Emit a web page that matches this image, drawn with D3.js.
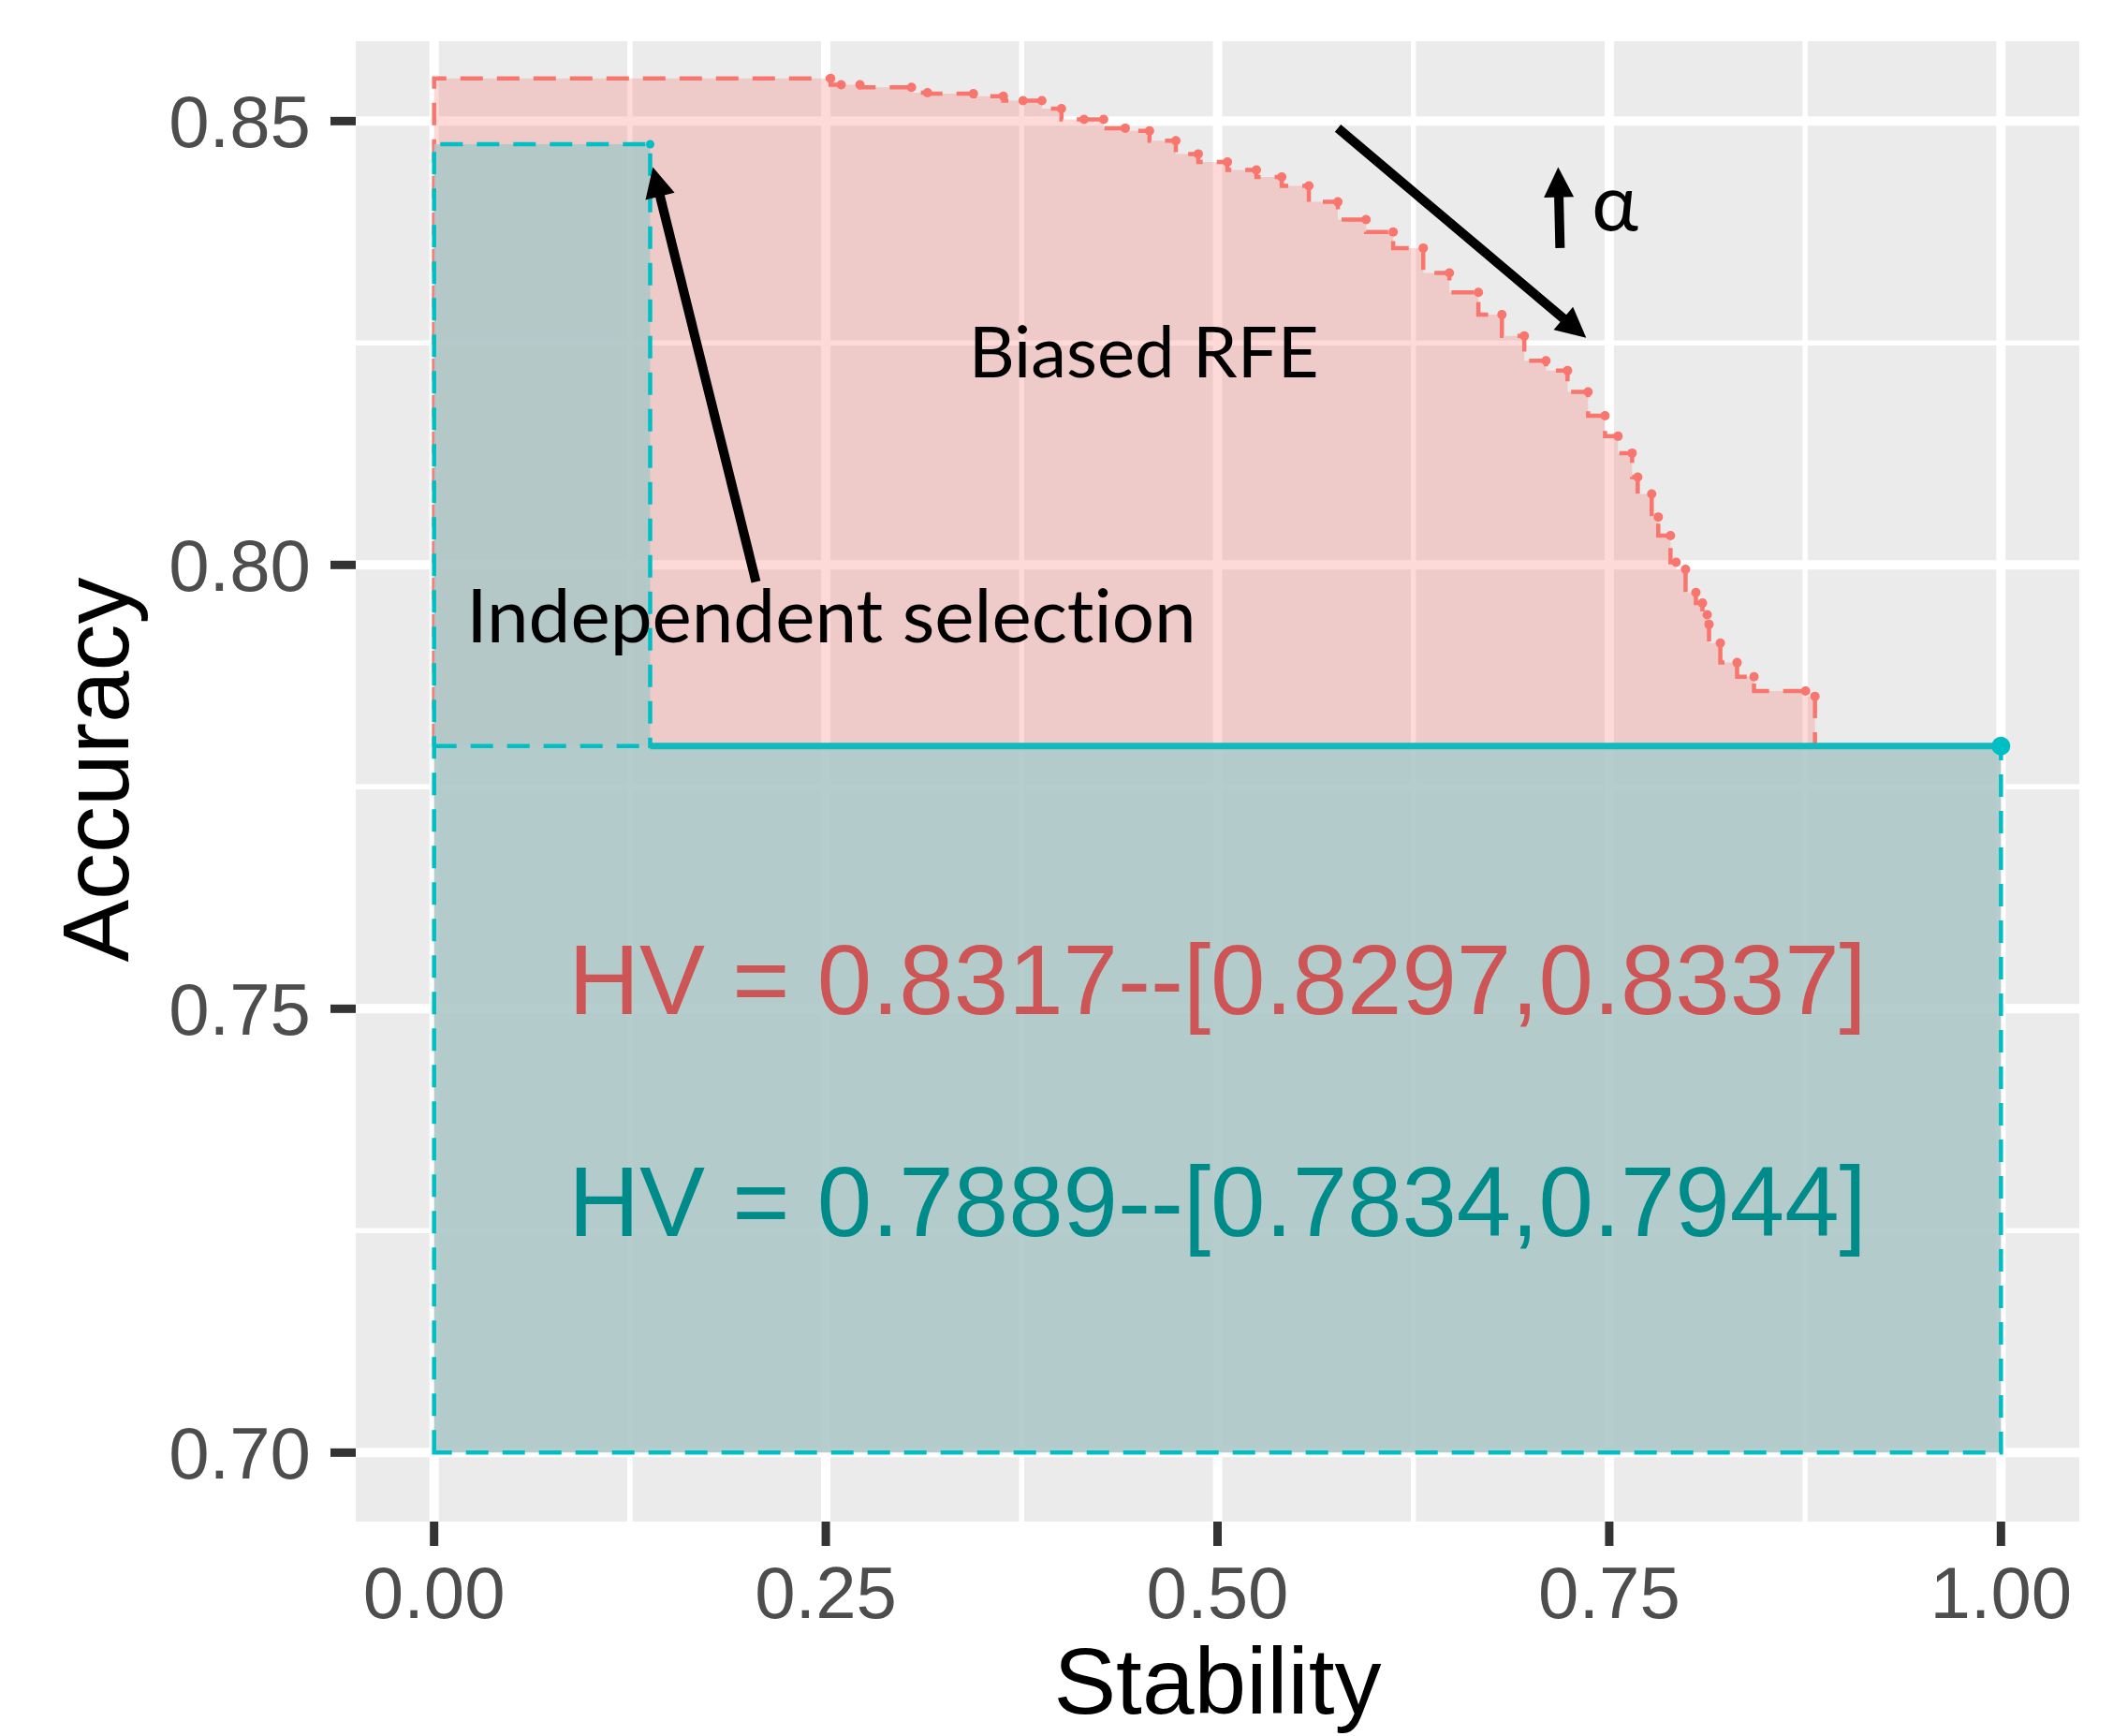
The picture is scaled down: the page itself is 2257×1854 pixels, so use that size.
<!DOCTYPE html>
<html>
<head>
<meta charset="utf-8">
<script src="https://cdn.jsdelivr.net/npm/d3@7"></script>
<style>
    body { margin: 0; background: #fff; }
    svg { display: block; }
</style>
</head>
<body>
<div id="chart"></div>
<script>
// Biased RFE pareto front (stability, accuracy)
var rfeStability = [0.2531, 0.2598, 0.2718, 0.3047, 0.3149, 0.3442, 0.3633, 0.3759, 0.3879, 0.4004,
    0.4148, 0.4273, 0.4411, 0.4566, 0.4734, 0.4877, 0.5063, 0.5248, 0.5410, 0.5583,
    0.5768, 0.5948, 0.6121, 0.6313, 0.6480, 0.6665, 0.6815, 0.6958, 0.7096, 0.7234,
    0.7365, 0.7473, 0.7556, 0.7646, 0.7682, 0.7771, 0.7813, 0.7891, 0.7927, 0.7987,
    0.8053, 0.8095, 0.8125, 0.8137, 0.8209, 0.8316, 0.8424, 0.8753, 0.8813];
var rfeAccuracy = [0.8548, 0.8541, 0.8541, 0.8538, 0.8532, 0.8531, 0.8528, 0.8523, 0.8523, 0.8514,
    0.8502, 0.8502, 0.8492, 0.8489, 0.8478, 0.8463, 0.8454, 0.8445, 0.8437, 0.8427,
    0.8409, 0.8389, 0.8375, 0.8357, 0.8329, 0.8307, 0.8282, 0.8258, 0.8230, 0.8219,
    0.8195, 0.8168, 0.8145, 0.8126, 0.8099, 0.8080, 0.8054, 0.8033, 0.8003, 0.7995,
    0.7969, 0.7957, 0.7944, 0.7933, 0.7912, 0.7890, 0.7874, 0.7858, 0.7852];
var rfeFloor = 0.7796;

// Independent selection front
var indepStability = [0.1379, 1.0];
var indepAccuracy = [0.8474, 0.7796];
var indepFloor = 0.70;

var xTicks = [0, 0.25, 0.5, 0.75, 1];
var xMinor = [0.125, 0.375, 0.625, 0.875];
var yTicks = [0.70, 0.75, 0.80, 0.85];
var yMinor = [0.725, 0.775, 0.825];

var hvLabels = ["HV = 0.8317--[0.8297,0.8337]", "HV = 0.7889--[0.7834,0.7944]"];
var hvLevels = [0.7494, 0.7244];
var hvColors = ["#CD5555", "#008B8B"];

var W = 2257, H = 1854;
var panel = {left: 380, right: 2221, top: 44, bottom: 1625};

var x = d3.scaleLinear().domain([-0.05, 1.05]).range([panel.left, panel.right]);
var y = d3.scaleLinear().domain([0.69223, 0.859]).range([panel.bottom, panel.top]);

var svg = d3.select("#chart").append("svg")
    .attr("width", W)
    .attr("height", H)
    .style("background", "#fff");

svg.append("defs").append("clipPath").attr("id", "clip")
    .append("rect")
    .attr("x", panel.left).attr("y", panel.top)
    .attr("width", panel.right - panel.left)
    .attr("height", panel.bottom - panel.top);

svg.append("rect")
    .attr("x", panel.left).attr("y", panel.top)
    .attr("width", panel.right - panel.left)
    .attr("height", panel.bottom - panel.top)
    .attr("fill", "#EBEBEB");

var grid = svg.append("g").attr("clip-path", "url(#clip)");

grid.selectAll(".xminor").data(xMinor).enter().append("line")
    .attr("x1", function(d) { return x(d); }).attr("x2", function(d) { return x(d); })
    .attr("y1", panel.top).attr("y2", panel.bottom)
    .attr("stroke", "#fff").attr("stroke-width", 5.5);
grid.selectAll(".yminor").data(yMinor).enter().append("line")
    .attr("y1", function(d) { return y(d); }).attr("y2", function(d) { return y(d); })
    .attr("x1", panel.left).attr("x2", panel.right)
    .attr("stroke", "#fff").attr("stroke-width", 5.5);
grid.selectAll(".xmajor").data(xTicks).enter().append("line")
    .attr("x1", function(d) { return x(d); }).attr("x2", function(d) { return x(d); })
    .attr("y1", panel.top).attr("y2", panel.bottom)
    .attr("stroke", "#fff").attr("stroke-width", 10);
grid.selectAll(".ymajor").data(yTicks).enter().append("line")
    .attr("y1", function(d) { return y(d); }).attr("y2", function(d) { return y(d); })
    .attr("x1", panel.left).attr("x2", panel.right)
    .attr("stroke", "#fff").attr("stroke-width", 10);

var step = d3.line()
    .x(function(d) { return x(d[0]); })
    .y(function(d) { return y(d[1]); })
    .curve(d3.curveStepBefore);

// dominated area: from the floor up the left edge, along the front, back down
function frontPoints(xs, ys, floor) {
    var pts = [[0, floor]];
    xs.forEach(function(v, i) { pts.push([v, ys[i]]); });
    pts.push([xs[xs.length - 1], floor]);
    return pts;
}

var plot = svg.append("g").attr("clip-path", "url(#clip)");

// Biased RFE
var rfePts = frontPoints(rfeStability, rfeAccuracy, rfeFloor);
plot.append("path")
    .attr("d", step(rfePts) + "Z")
    .attr("fill", "#F8766D").attr("fill-opacity", 0.27);
plot.append("path")
    .attr("d", step(rfePts))
    .attr("fill", "none")
    .attr("stroke", "#F8766D").attr("stroke-width", 4.5)
    .attr("stroke-dasharray", "24 15");

plot.selectAll(".rfept").data(rfeStability).enter().append("circle")
    .attr("cx", function(d) { return x(d); })
    .attr("cy", function(d, i) { return y(rfeAccuracy[i]); })
    .attr("r", 5)
    .attr("fill", "#F8766D");

// Independent selection
plot.append("path")
    .attr("d", step(frontPoints(indepStability, indepAccuracy, indepFloor)) + "Z")
    .attr("fill", "#ADC8C8").attr("fill-opacity", 0.9)
    .attr("stroke", "#00BFC4").attr("stroke-width", 4.5)
    .attr("stroke-dasharray", "24 15");

plot.append("line")
    .attr("x1", x(0)).attr("x2", x(indepStability[0]))
    .attr("y1", y(indepAccuracy[1])).attr("y2", y(indepAccuracy[1]))
    .attr("stroke", "#00BFC4").attr("stroke-width", 4.5)
    .attr("stroke-dasharray", "24 15");

plot.append("line")
    .attr("x1", x(indepStability[0])).attr("x2", x(indepStability[1]))
    .attr("y1", y(indepAccuracy[1])).attr("y2", y(indepAccuracy[1]))
    .attr("stroke", "#12B9BD").attr("stroke-width", 7);

plot.selectAll(".indpt").data(indepStability).enter().append("circle")
    .attr("cx", function(d) { return x(d); })
    .attr("cy", function(d, i) { return y(indepAccuracy[i]); })
    .attr("r", function(d, i) { return i == indepStability.length - 1 ? 10 : 4.5; })
    .attr("fill", "#00BFC4");

// HV labels
svg.selectAll(".hv").data(hvLabels).enter().append("text")
    .attr("x", x(0.5))
    .attr("y", function(d, i) { return y(hvLevels[i]); })
    .attr("text-anchor", "middle")
    .style("font", "105px 'Liberation Sans', Arial, sans-serif")
    .attr("fill", function(d, i) { return hvColors[i]; })
    .text(function(d) { return d; });

// axes
var ax = svg.append("g");
ax.selectAll(".xt").data(xTicks).enter().append("line")
    .attr("x1", function(d) { return x(d); }).attr("x2", function(d) { return x(d); })
    .attr("y1", panel.bottom).attr("y2", panel.bottom + 26)
    .attr("stroke", "#333").attr("stroke-width", 9);
ax.selectAll(".xl").data(xTicks).enter().append("text")
    .attr("x", function(d) { return x(d); })
    .attr("y", 1728)
    .attr("text-anchor", "middle")
    .style("font", "78px 'Liberation Sans', Arial, sans-serif")
    .attr("fill", "#4D4D4D")
    .text(d3.format(".2f"));

ax.selectAll(".yt").data(yTicks).enter().append("line")
    .attr("y1", function(d) { return y(d); }).attr("y2", function(d) { return y(d); })
    .attr("x1", panel.left - 27).attr("x2", panel.left)
    .attr("stroke", "#333").attr("stroke-width", 9);
ax.selectAll(".yl").data(yTicks).enter().append("text")
    .attr("x", 332)
    .attr("y", function(d) { return y(d); })
    .attr("dy", "0.36em")
    .attr("text-anchor", "end")
    .style("font", "78px 'Liberation Sans', Arial, sans-serif")
    .attr("fill", "#4D4D4D")
    .text(d3.format(".2f"));

ax.append("text")
    .attr("x", x(0.5)).attr("y", 1830)
    .attr("text-anchor", "middle")
    .style("font", "100px 'Liberation Sans', Arial, sans-serif")
    .attr("fill", "#000")
    .text("Stability");

ax.append("text")
    .attr("transform", "translate(137," + 822 + ")rotate(-90)")
    .attr("text-anchor", "middle")
    .style("font", "100px 'Liberation Sans', Arial, sans-serif")
    .attr("fill", "#000")
    .text("Accuracy");

// annotations added on top of the plot
var notes = svg.append("g");

function arrow(x1, y1, x2, y2) {
    var px1 = x(x1), py1 = y(y1), px2 = x(x2), py2 = y(y2);
    var dx = px2 - px1, dy = py2 - py1;
    var len = Math.sqrt(dx * dx + dy * dy);
    var ux = dx / len, uy = dy / len;
    var bx = px2 - ux * 32, by = py2 - uy * 32;
    notes.append("line")
        .attr("x1", px1).attr("y1", py1)
        .attr("x2", bx + ux * 4).attr("y2", by + uy * 4)
        .attr("stroke", "#000").attr("stroke-width", 10);
    notes.append("path")
        .attr("d", "M" + px2 + "," + py2 +
            "L" + (bx - uy * 16) + "," + (by + ux * 16) +
            "L" + (bx + uy * 16) + "," + (by - ux * 16) + "Z")
        .attr("fill", "#000");
}

arrow(0.2054, 0.7981, 0.1396, 0.8448);
arrow(0.5768, 0.8492, 0.7353, 0.8256);
arrow(0.7186, 0.8357, 0.7174, 0.8448);

notes.append("text")
    .attr("x", x(0.3412)).attr("y", y(0.8211))
    .style("font", "76px Lato, 'Open Sans', sans-serif")
    .style("font-variant-ligatures", "none")
    .attr("fill", "#000")
    .text("Biased RFE");

notes.append("text")
    .attr("x", x(0.0206)).attr("y", y(0.7913))
    .style("font", "80px Lato, 'Open Sans', sans-serif")
    .style("font-variant-ligatures", "none")
    .attr("fill", "#000")
    .text("Independent selection");

notes.append("text")
    .attr("x", x(0.7389)).attr("y", y(0.8377))
    .style("font", "84px Lato, 'Open Sans', sans-serif")
    .attr("fill", "#000")
    .text("α");
</script>
</body>
</html>
